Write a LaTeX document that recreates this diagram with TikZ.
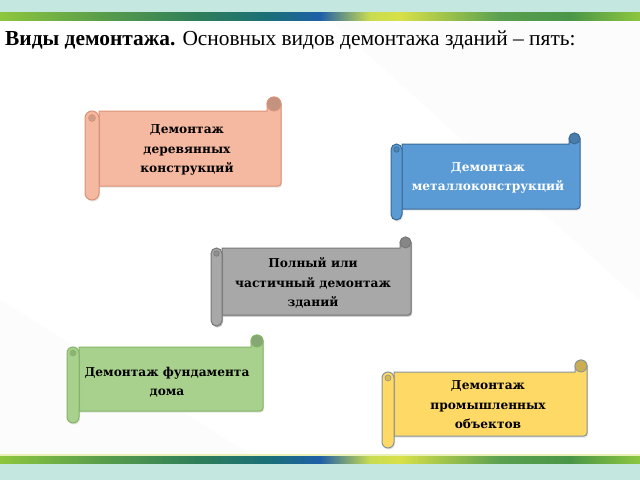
\documentclass[tikz,border=0pt]{standalone}
\usepackage{fontspec}
\setmainfont{Liberation Serif}
\newfontfamily\scrfont{DejaVu Serif}
\usetikzlibrary{shadows}
\definecolor{bandteal}{HTML}{C4E8E0}
\definecolor{pfill}{HTML}{F5B8A0}\definecolor{pdraw}{HTML}{DC9276}
\definecolor{bfill}{HTML}{5B9BD5}\definecolor{bdraw}{HTML}{3A6A96}
\definecolor{gfill}{HTML}{A8A8A8}\definecolor{gdraw}{HTML}{777777}
\definecolor{vfill}{HTML}{A9D18E}\definecolor{vdraw}{HTML}{84B466}
\definecolor{yfill}{HTML}{FFD966}\definecolor{ydraw}{HTML}{86939A}
\definecolor{s1}{HTML}{8DC63F}\definecolor{s2}{HTML}{5A9E4A}
\definecolor{s3}{HTML}{2E7D5A}\definecolor{s4}{HTML}{1A6F78}
\definecolor{s5}{HTML}{1F5FA8}\definecolor{s6}{HTML}{C8DC50}
\definecolor{s7}{HTML}{D8E048}\definecolor{s8}{HTML}{5AA050}
\definecolor{s9}{HTML}{4A9648}
% L T R B c fill draw shadowopacity
\newcommand\myscroll[8]{%
  \filldraw[fill=#6,draw=#7,line width=1pt,
    drop shadow={opacity=#8,shadow xshift=1pt,shadow yshift=-1.5pt}]
    ({#1+#5},{-(#2+#5)}) -- ({#3-#5},{-(#2+#5)}) -- ({#3-#5},{-(#2+#5/2)})
    arc[start angle=180,end angle=0,radius=#5/2]
    -- (#3,{-(#4-#5)+3}) arc[start angle=0,end angle=-90,radius=3]
    -- ({#1+#5},{-(#4-#5)}) -- cycle;
  \filldraw[fill=#6!80!black,draw=#7,line width=0.8pt]
    ({#3-#5/2},{-(#2+#5/2)}) circle[radius=#5/2];
  \filldraw[fill=#6,draw=#7,line width=1pt,
    drop shadow={opacity=#8,shadow xshift=1pt,shadow yshift=-1.5pt}]
    (#1,{-(#2+1.5*#5)}) arc[start angle=180,end angle=0,radius=#5/2]
    -- ({#1+#5},{-(#4-#5/2)}) arc[start angle=0,end angle=-180,radius=#5/2] -- cycle;
  \filldraw[fill=#6!85!black,draw=#7,line width=0.6pt]
    ({#1+#5/2},{-(#2+1.5*#5)}) circle[radius=#5/4];
}
\tikzset{
  scrolltext/.style={align=center,inner sep=0pt,
    font=\scrfont\bfseries\fontsize{12.2}{19.5}\selectfont},
}
\begin{document}
\begin{tikzpicture}[x=1pt,y=1pt]
\useasboundingbox (0,0) rectangle (640,-480);
\fill[white] (0,0) rectangle (640,-480);
% faint background facets
\fill[gray!2] (330,-20) -- (640,-20) -- (640,-300) -- cycle;
\fill[gray!2] (0,-300) -- (250,-454) -- (0,-454) -- cycle;
% bands
\fill[bandteal] (0,0) rectangle (640,-12);
\fill[bandteal] (0,-463) rectangle (640,-480);
\fill[white] (0,-12) rectangle (640,-13);
\foreach \ya/\yb in {-12.5/-20,-455.5/-463}{
  \shade[left color=s1,right color=s2] (0,\ya) rectangle (100,\yb);
  \shade[left color=s2,right color=s3] (100,\ya) rectangle (200,\yb);
  \shade[left color=s3,right color=s4] (200,\ya) rectangle (270,\yb);
  \shade[left color=s4,right color=s5] (270,\ya) rectangle (320,\yb);
  \shade[left color=s5,right color=s6] (320,\ya) rectangle (370,\yb);
  \shade[left color=s6,right color=s7] (370,\ya) rectangle (400,\yb);
  \shade[left color=s7,right color=s8] (400,\ya) rectangle (500,\yb);
  \shade[left color=s8,right color=s9] (500,\ya) rectangle (570,\yb);
  \shade[left color=s9,right color=s1] (570,\ya) rectangle (640,\yb);
}
\fill[s6!40!white] (0,-454) rectangle (640,-455.5);
% title
\node[anchor=base west,inner sep=0pt,font=\fontsize{21.4}{24}\selectfont] (title) at (5,-45.5)
  {\textbf{Виды демонтажа.} Основных видов демонтажа зданий – пять:};
% scrolls
\myscroll{85}{97}{281}{200}{14}{pfill}{pdraw}{0.2}
\myscroll{391}{133}{580}{220}{11}{bfill}{bdraw}{0.2}
\myscroll{211}{237}{411}{326}{11}{gfill}{gdraw}{0.55}
\myscroll{67}{335}{263}{423}{12}{vfill}{vdraw}{0.2}
\myscroll{382}{360}{587}{448}{12}{yfill}{ydraw}{0.2}
\node[scrolltext] (wood) at (187,-150) {Демонтаж\\деревянных\\конструкций};
\node[scrolltext,text=white] (metal) at (488,-178) {Демонтаж\\металлоконструкций};
\node[scrolltext] (full) at (313,-283) {Полный или\\частичный демонтаж\\зданий};
\node[scrolltext] (found) at (167,-382) {Демонтаж фундамента\\дома};
\node[scrolltext] (ind) at (488,-405) {Демонтаж\\промышленных\\объектов};
\end{tikzpicture}
\end{document}
